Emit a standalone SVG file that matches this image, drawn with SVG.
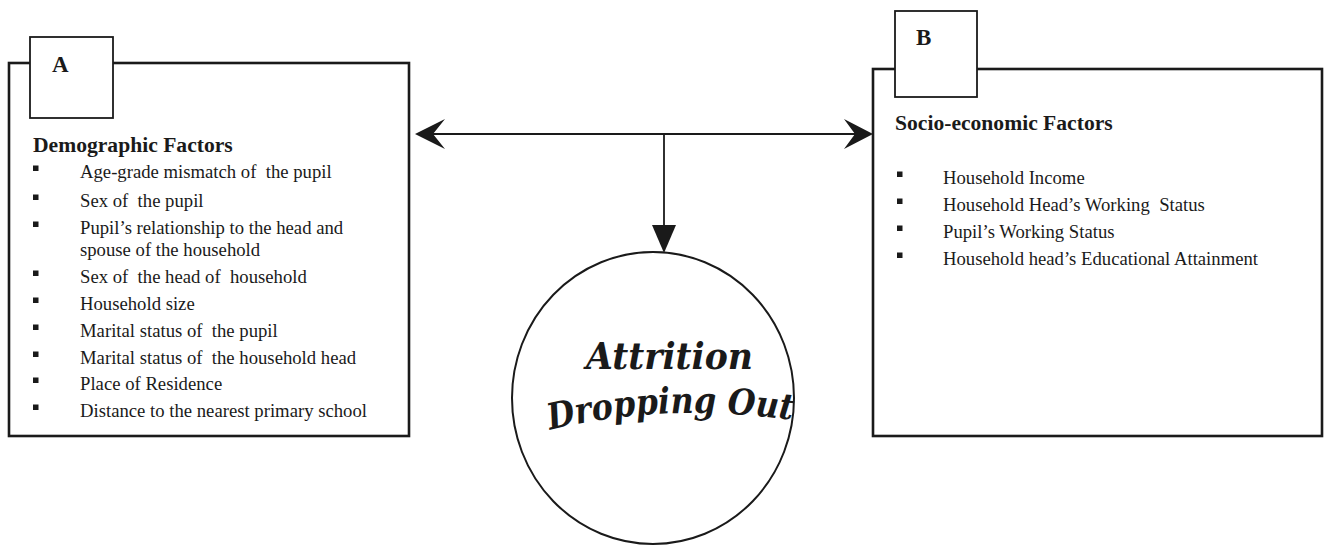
<svg xmlns="http://www.w3.org/2000/svg" width="1327" height="546" viewBox="0 0 1327 546">
<style>
.frame{fill:none;stroke:#1a1a1a;stroke-width:2.6}
.tab{fill:#fff;stroke:#1a1a1a;stroke-width:1.8}
.lbl{font-family:"Liberation Serif","Times New Roman",serif;font-weight:bold;font-size:23px;fill:#1a1a1a}
.hd{font-family:"Liberation Serif","Times New Roman",serif;font-weight:bold;font-size:21.6px;fill:#1a1a1a}
.it{font-family:"Liberation Serif","Times New Roman",serif;font-size:18.7px;fill:#1a1a1a;white-space:pre}
.bul{fill:#1a1a1a}
.ln{fill:none;stroke:#1a1a1a;stroke-width:1.8}
.ah{fill:#1a1a1a}
.big{font-family:"DejaVu Serif",serif;font-weight:bold;font-style:italic;fill:#1a1a1a}
</style>
<defs>
<rect id="b" width="5.5" height="5.5"/>
</defs>
<g id="nodeA">
<rect class="frame" x="9" y="63" width="400" height="373"/>
<rect class="tab" x="30" y="37" width="83" height="81"/>
<text class="lbl" x="52" y="72">A</text>
<text class="hd" x="33" y="152">Demographic Factors</text>
<g class="bul">
<use href="#b" x="33" y="165.5"/>
<use href="#b" x="33" y="194.5"/>
<use href="#b" x="33" y="221.5"/>
<use href="#b" x="33" y="270.5"/>
<use href="#b" x="33" y="297.5"/>
<use href="#b" x="33" y="324.5"/>
<use href="#b" x="33" y="351.5"/>
<use href="#b" x="33" y="377.5"/>
<use href="#b" x="33" y="404.5"/>
</g>
<text class="it" x="80" y="178" xml:space="preserve">Age-grade mismatch of  the pupil</text>
<text class="it" x="80" y="207" xml:space="preserve">Sex of  the pupil</text>
<text class="it" x="80" y="234">Pupil’s relationship to the head and</text>
<text class="it" x="80" y="256">spouse of the household</text>
<text class="it" x="80" y="283" xml:space="preserve">Sex of  the head of  household</text>
<text class="it" x="80" y="310">Household size</text>
<text class="it" x="80" y="337" xml:space="preserve">Marital status of  the pupil</text>
<text class="it" x="80" y="364" xml:space="preserve">Marital status of  the household head</text>
<text class="it" x="80" y="390">Place of Residence</text>
<text class="it" x="80" y="417">Distance to the nearest primary school</text>
</g>
<g id="nodeB">
<rect class="frame" x="873" y="69" width="449" height="367"/>
<rect class="tab" x="895" y="11" width="82" height="86"/>
<text class="lbl" x="916" y="45">B</text>
<text class="hd" x="895" y="130">Socio-economic Factors</text>
<g class="bul">
<use href="#b" x="897" y="171.5"/>
<use href="#b" x="897" y="198.5"/>
<use href="#b" x="897" y="225.5"/>
<use href="#b" x="897" y="252.5"/>
</g>
<text class="it" x="943" y="184">Household Income</text>
<text class="it" x="943" y="211" xml:space="preserve">Household Head’s Working  Status</text>
<text class="it" x="943" y="238">Pupil’s Working Status</text>
<text class="it" x="943" y="265">Household head’s Educational Attainment</text>
</g>
<g id="nodeC">
<ellipse cx="653" cy="398" rx="141" ry="146" fill="#fff" stroke="#1a1a1a" stroke-width="2"/>
<text class="big" x="586" y="369" font-size="37" textLength="167" lengthAdjust="spacingAndGlyphs">Attrition</text>
<path id="arc" d="M550,430 Q662,402 792,420" fill="none"/>
<text class="big" font-size="36"><textPath href="#arc" textLength="244" lengthAdjust="spacingAndGlyphs">Dropping Out</textPath></text>
</g>
<g id="connectors">
<line class="ln" x1="430" y1="134" x2="858" y2="134"/>
<line class="ln" x1="664" y1="134" x2="664" y2="228"/>
<polygon class="ah" points="415,134 445,119 433,134 445,149"/>
<polygon class="ah" points="873,134 844,119 855,134 844,149"/>
<polygon class="ah" points="652,225 676,225 664,253"/>
</g>
</svg>
